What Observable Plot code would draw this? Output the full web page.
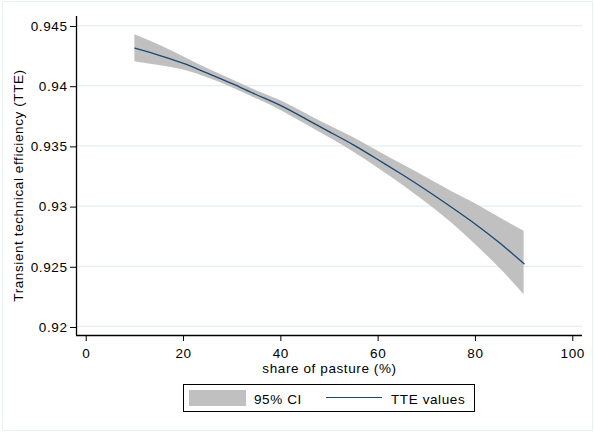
<!DOCTYPE html>
<html>
<head>
<meta charset="utf-8">
<script src="https://cdn.jsdelivr.net/npm/d3@7"></script>
<script src="https://cdn.jsdelivr.net/npm/@observablehq/plot@0.6"></script>
<style>
  html, body { margin: 0; padding: 0; background: #fff; }
  #wrap { position: relative; width: 595px; height: 434px; overflow: hidden; background: #fff;
          font-family: "Liberation Sans", Arial, Helvetica, sans-serif; }
  #outer { position: absolute; left: 2px; top: 1px; width: 589px; height: 428px; border: 1px solid #eaeff2; }
  #chart { position: absolute; left: 0; top: 0; }
  #chart svg text { letter-spacing: 0.6px; }
  .lg { position: absolute; font-size: 13.5px; line-height: 13.5px; letter-spacing: 0.6px; color: #000; white-space: nowrap; }
  #legbox { position: absolute; left: 183px; top: 384px; width: 290px; height: 26px; border: 1px solid #000; background: #fff; }
  #sw1 { position: absolute; left: 189px; top: 390px; width: 57px; height: 16px; background: #c0c0c0; }
  #sw2 { position: absolute; left: 326px; top: 397px; width: 56px; height: 0; border-top: 1.3px solid #1a476f; }
</style>
</head>
<body>
<div id="wrap">
  <div id="outer"></div>
  <div id="chart"></div>
  <div id="legbox"></div>
  <div id="sw1"></div>
  <span class="lg" id="t1" style="left:254px; top:393px;"></span>
  <div id="sw2"></div>
  <span class="lg" id="t2" style="left:391px; top:393px;"></span>
</div>
<script>
// share of pasture (%)
const pasture = [10, 15, 20, 25, 30, 35, 40, 45, 50, 55, 60, 65, 70, 75, 80, 85, 90];
// predicted transient technical efficiency
const tte   = [0.94312, 0.94253, 0.94185, 0.94102, 0.94017, 0.93925, 0.93835, 0.93727, 0.93617, 0.93507, 0.93385, 0.9326, 0.9313, 0.92993, 0.9285, 0.92693, 0.92521];
// 95% confidence interval bounds
const lower = [0.94200, 0.94168, 0.9413, 0.94064, 0.93984, 0.93891, 0.93795, 0.93682, 0.93567, 0.93447, 0.93315, 0.93175, 0.93025, 0.92863, 0.9268, 0.92483, 0.92264];
const upper = [0.94424, 0.94338, 0.9424, 0.9414, 0.9405, 0.93959, 0.93875, 0.93772, 0.93667, 0.93567, 0.93455, 0.93345, 0.93235, 0.93123, 0.9302, 0.92903, 0.92791];

const yTicks = [0.92, 0.925, 0.93, 0.935, 0.94, 0.945];
const yTickLabels = ["0.92", "0.925", "0.93", "0.935", "0.94", "0.945"];
const xTicks = [0, 20, 40, 60, 80, 100];
const xTickLabels = ["0", "20", "40", "60", "80", "100"];

const xTitle = "share of pasture (%)";
const yTitle = "Transient technical efficiency (TTE)";
const legendLabels = ["95% CI", "TTE values"];

const rows = pasture.map((x, i) => ({x, tte: tte[i], lo: lower[i], hi: upper[i]}));

const xDomain = [-2, 102];
const yDomain = [0.91925, 0.94575];

const chart = Plot.plot({
  width: 595,
  height: 378,
  marginLeft: 76,
  marginRight: 13,
  marginTop: 16,
  marginBottom: 43,
  style: {
    fontFamily: "'Liberation Sans', Arial, Helvetica, sans-serif",
    fontSize: "13.5px",
    background: "transparent",
    color: "#000",
    overflow: "visible"
  },
  x: {domain: xDomain},
  y: {domain: yDomain},
  marks: [
    Plot.gridY(yTicks, {stroke: "#e6edf0", strokeOpacity: 1, strokeWidth: 1.2}),
    Plot.areaY(rows, {x: "x", y1: "lo", y2: "hi", fill: "#c0c0c0", fillOpacity: 1, curve: "natural"}),
    Plot.lineY(rows, {x: "x", y: "tte", stroke: "#1a476f", strokeWidth: 1.3, curve: "natural"}),
    Plot.axisY({
      ticks: yTicks,
      tickFormat: d => yTickLabels[yTicks.indexOf(d)],
      tickSize: 6,
      tickPadding: 3,
      dy: 1,
      fontSize: 13.5,
      label: null,
      stroke: "#000",
      fill: "#000"
    }),
    Plot.axisX({
      ticks: xTicks,
      tickFormat: d => xTickLabels[xTicks.indexOf(d)],
      tickSize: 6,
      tickPadding: 7,
      fontSize: 13.5,
      label: null,
      stroke: "#000",
      fill: "#000"
    }),
    Plot.ruleX([xDomain[0]], {stroke: "#000", strokeWidth: 1.3}),
    Plot.ruleY([yDomain[0]], {stroke: "#000", strokeWidth: 1.3}),
    Plot.text([yTitle], {
      text: d => d,
      frameAnchor: "left",
      textAnchor: "middle",
      lineAnchor: "middle",
      rotate: -90,
      dx: -58.3,
      dy: 9.5,
      fontSize: 13.5,
      fill: "#000"
    }),
    Plot.text([xTitle], {
      text: d => d,
      frameAnchor: "bottom",
      textAnchor: "middle",
      lineAnchor: "middle",
      dy: 32.7,
      fontSize: 13.5,
      fill: "#000"
    })
  ]
});

document.getElementById("chart").appendChild(chart);
document.getElementById("t1").textContent = legendLabels[0];
document.getElementById("t2").textContent = legendLabels[1];
</script>
</body>
</html>
